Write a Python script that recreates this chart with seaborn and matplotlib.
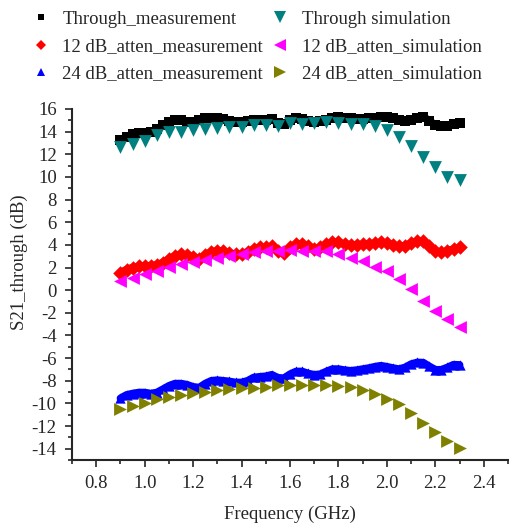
import numpy as np
import pandas as pd
import matplotlib
matplotlib.use('Agg')
import matplotlib.pyplot as plt
import seaborn as sns
from matplotlib.ticker import MultipleLocator
from matplotlib.lines import Line2D

sns.set_style('ticks')
plt.rcParams['font.family'] = ['Liberation Serif', 'DejaVu Serif']
plt.rcParams['font.size'] = 13.5
plt.rcParams['axes.unicode_minus'] = False

# measurement frequencies (GHz), dense sweep
freq_meas = np.round(np.arange(0.9, 2.3001, 0.025), 3)
# simulation frequencies (GHz)
freq_sim = np.round(np.arange(0.9, 2.3001, 0.05), 3)

through_meas = [13.27, 13.54, 13.75, 13.84, 13.9, 13.99, 14.22, 14.58, 14.87, 15.02,
                15.02, 14.87, 14.81, 15.0, 15.17, 15.2, 15.2, 15.1, 14.93, 14.87,
                14.87, 14.93, 15.0, 15.0, 15.05, 15.1, 14.76, 14.67, 15.05, 15.17,
                15.1, 14.93, 14.87, 14.93, 15.0, 15.23, 15.3, 15.23, 15.17, 15.1,
                15.1, 15.17, 15.23, 15.3, 15.3, 15.23, 15.0, 14.93, 15.0, 15.23,
                15.32, 14.96, 14.58, 14.49, 14.52, 14.64, 14.73]
atten12_meas = [1.55, 1.82, 2.0, 2.09, 2.15, 2.15, 2.23, 2.44, 2.74, 3.03,
                3.15, 3.1, 2.97, 2.74, 3.1, 3.39, 3.47, 3.47, 3.27, 3.18,
                3.18, 3.39, 3.63, 3.78, 3.78, 3.86, 3.42, 3.3, 3.78, 4.07,
                4.07, 3.86, 3.63, 3.78, 4.07, 4.22, 4.22, 4.07, 4.0, 4.0,
                4.04, 4.07, 4.16, 4.22, 4.16, 4.0, 3.86, 3.92, 4.16, 4.3,
                4.35, 3.92, 3.42, 3.33, 3.48, 3.63, 3.77]
atten24_meas = [-9.55, -9.25, -9.13, -9.04, -9.04, -9.13, -9.04, -8.75, -8.45, -8.25,
                -8.25, -8.35, -8.54, -8.6, -8.25, -8.0, -7.95, -8.0, -8.06, -8.15,
                -8.15, -8.0, -7.71, -7.65, -7.6, -7.47, -7.74, -7.77, -7.42, -7.18,
                -7.18, -7.36, -7.47, -7.42, -7.18, -6.97, -6.97, -7.06, -7.12, -7.06,
                -6.97, -6.88, -6.76, -6.67, -6.76, -6.88, -6.97, -6.82, -6.53, -6.38,
                -6.4, -6.73, -7.03, -7.03, -6.82, -6.58, -6.6]

through_sim = [12.62, 12.95, 13.2, 13.72, 13.99, 14.0, 14.13, 14.2, 14.31, 14.4,
               14.42, 14.56, 14.6, 14.53, 14.73, 14.7, 14.75, 14.82, 14.8, 14.7,
               14.68, 14.46, 14.17, 13.54, 12.69, 11.8, 10.9, 9.99, 9.69]
atten12_sim = [0.79, 1.08, 1.43, 1.73, 2.03, 2.32, 2.53, 2.65, 2.88, 3.06,
               3.18, 3.36, 3.48, 3.42, 3.57, 3.5, 3.45, 3.42, 3.21, 2.88,
               2.59, 2.03, 1.7, 0.99, 0.1, -0.94, -1.85, -2.59, -3.24]
atten24_sim = [-10.52, -10.23, -10.0, -9.58, -9.4, -9.22, -9.11, -8.96, -8.8, -8.72,
               -8.66, -8.6, -8.55, -8.42, -8.42, -8.42, -8.39, -8.36, -8.45, -8.54,
               -8.8, -9.13, -9.58, -10.07, -10.88, -11.77, -12.57, -13.34, -13.9]

fig = plt.figure(figsize=(5.09, 5.25), dpi=100)
ax = fig.add_axes([0.1415, 0.1238, 0.8566, 0.6686])

meas = [('Through_measurement', through_meas, 's', 'black', 6),
        ('12 dB_atten_measurement', atten12_meas, 'D', 'red', 6),
        ('24 dB_atten_measurement', atten24_meas, '^', 'blue', 8)]
sims = [('Through simulation', through_sim, 'v', '#008080', 8),
        ('12 dB_atten_simulation', atten12_sim, '<', '#ff00ff', 8),
        ('24 dB_atten_simulation', atten24_sim, '>', '#808000', 8)]

handles = []
# dense measured sweeps show up as a thick band of overlapping markers
for name, vals, mk, col, ms in meas:
    df = pd.DataFrame({'f': freq_meas, 'v': vals})
    sns.lineplot(data=df, x='f', y='v', color=col, lw=5.5, ax=ax, zorder=2,
                 solid_capstyle='round')
    sns.scatterplot(data=df, x='f', y='v', marker=mk, color=col, s=55,
                    linewidth=0, ax=ax, zorder=2)
    handles.append(Line2D([], [], ls='none', marker=mk, color=col, markersize=ms * 0.8,
                          markeredgewidth=0, label=name))
for name, vals, mk, col, ms in sims:
    df = pd.DataFrame({'f': freq_sim, 'v': vals})
    sns.scatterplot(data=df, x='f', y='v', marker=mk, color=col, s=85,
                    linewidth=0, ax=ax, zorder=3)
    handles.append(Line2D([], [], ls='none', marker=mk, color=col, markersize=ms,
                          markeredgewidth=0, label=name))

ax.set_xlim(0.7, 2.5)
ax.set_ylim(-15, 16)
ax.xaxis.set_major_locator(MultipleLocator(0.2))
ax.xaxis.set_minor_locator(MultipleLocator(0.1))
ax.yaxis.set_major_locator(MultipleLocator(2))
ax.yaxis.set_minor_locator(MultipleLocator(1))
ax.xaxis.set_major_formatter(matplotlib.ticker.FormatStrFormatter('%.1f'))
ax.tick_params(which='major', direction='out', length=5, width=1.2, pad=6, labelsize=13.5)
ax.tick_params(which='minor', direction='out', length=3, width=1.2)
for sp in ['top', 'right']:
    ax.spines[sp].set_visible(False)
for sp in ['left', 'bottom']:
    ax.spines[sp].set_linewidth(1.5)

ax.set_xlabel('Frequency (GHz)', fontsize=13.5, labelpad=10)
ax.set_ylabel('S21_through (dB)', fontsize=13.5)
ax.yaxis.set_label_coords(-0.10, 0.564)

fig.legend(handles=handles, ncol=2, loc='upper left', bbox_to_anchor=(0.025, 1.012),
           frameon=False, fontsize=13.5, handletextpad=0.55, columnspacing=0.3,
           labelspacing=0.55, handlelength=1.2)

fig.savefig('out.png', dpi=100)
